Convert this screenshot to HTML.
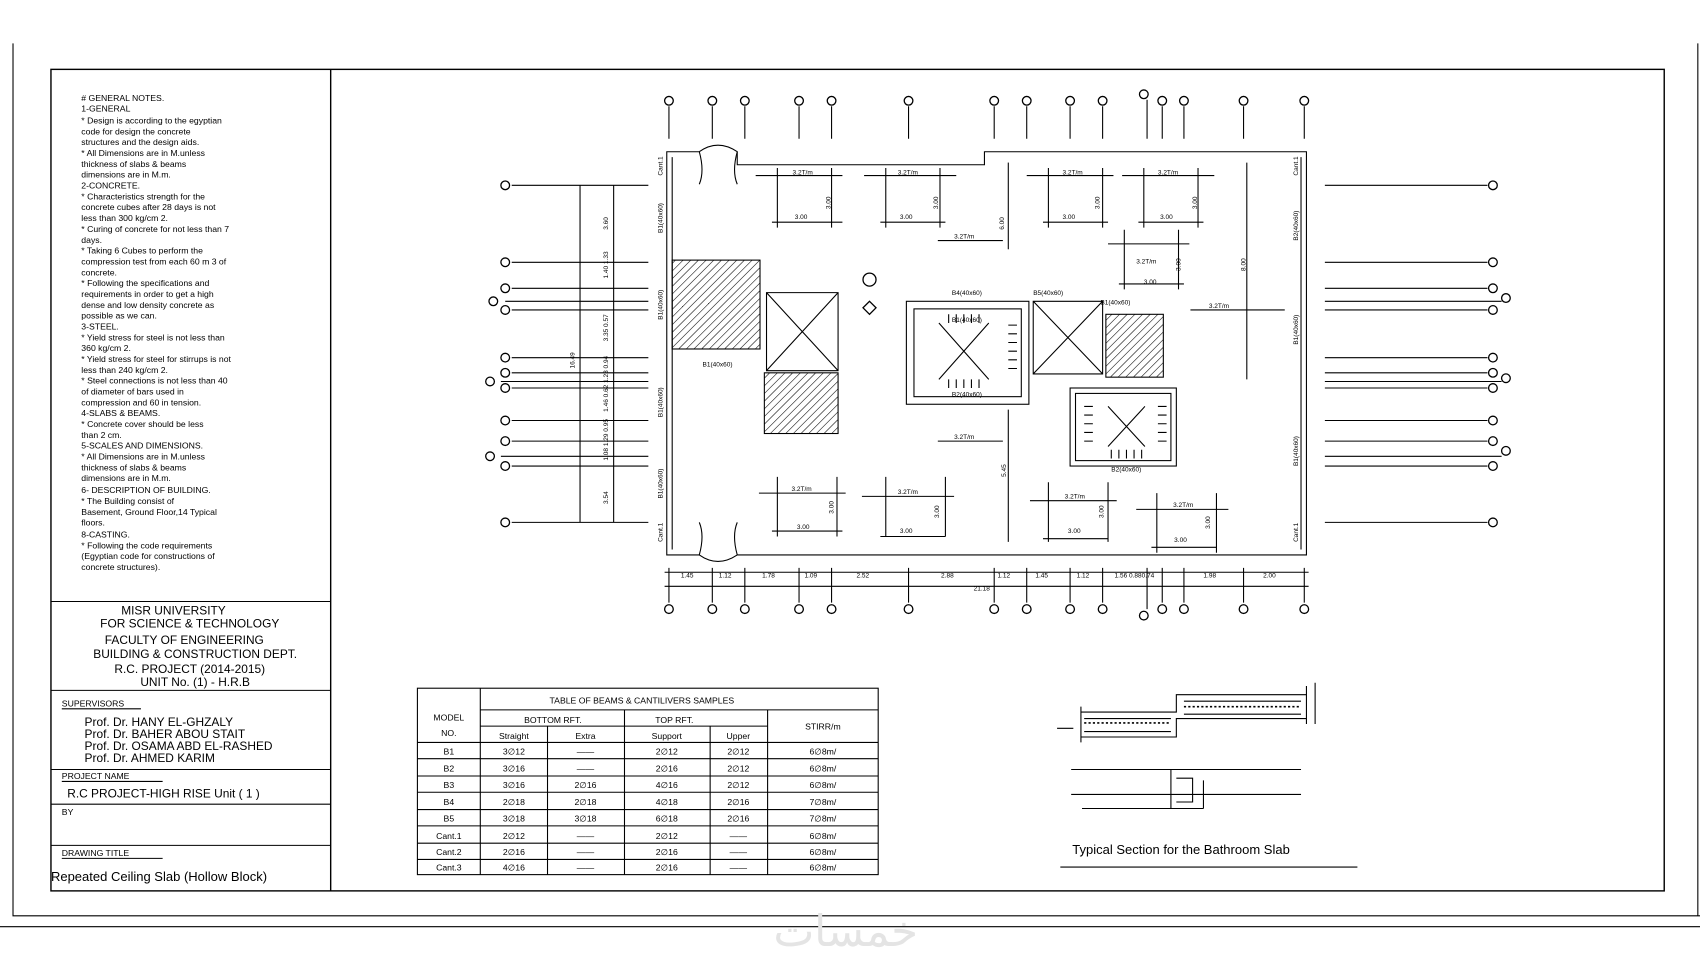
<!DOCTYPE html>
<html><head><meta charset="utf-8"><style>
html,body{margin:0;padding:0;background:#fff;}
svg{display:block;width:1700px;height:970px;}
text{font-family:"Liberation Sans",sans-serif;fill:#000;}
.n{font-size:8px;}
.t{font-size:11px;}
.s{font-size:6px;}
</style></head><body>
<svg viewBox="0 0 1568 895" preserveAspectRatio="none" xmlns="http://www.w3.org/2000/svg">
<defs>
<pattern id="h" width="5" height="5" patternUnits="userSpaceOnUse" patternTransform="rotate(45)"><line x1="0" y1="0" x2="0" y2="5" stroke="#000" stroke-width="1"/></pattern>
</defs>
<g fill="none" stroke="#000" stroke-width="1">
<polyline points="12,40 12,845 1568,845"/>
<line x1="1566" y1="40" x2="1566" y2="845"/>
<line x1="0" y1="855" x2="1568" y2="855"/>
<rect x="47" y="64" width="1488" height="758" stroke-width="1.3"/>
<line x1="305" y1="64" x2="305" y2="822" stroke-width="1.3"/>
<line x1="47" y1="555" x2="305" y2="555"/>
<line x1="47" y1="637" x2="305" y2="637"/>
<line x1="47" y1="710" x2="305" y2="710"/>
<line x1="47" y1="742" x2="305" y2="742"/>
<line x1="47" y1="780" x2="305" y2="780"/>
<rect x="385" y="635" width="425" height="172"/>
<line x1="443" y1="635" x2="443" y2="807"/>
<line x1="443" y1="655" x2="810" y2="655"/>
<line x1="443" y1="670" x2="708" y2="670"/>
<line x1="385" y1="685" x2="810" y2="685"/>
<line x1="505" y1="670" x2="505" y2="807"/>
<line x1="576" y1="655" x2="576" y2="807"/>
<line x1="655" y1="670" x2="655" y2="807"/>
<line x1="708" y1="655" x2="708" y2="807"/>
<line x1="385" y1="700" x2="810" y2="700"/><line x1="385" y1="716" x2="810" y2="716"/><line x1="385" y1="731" x2="810" y2="731"/><line x1="385" y1="747" x2="810" y2="747"/><line x1="385" y1="762" x2="810" y2="762"/><line x1="385" y1="778" x2="810" y2="778"/><line x1="385" y1="793" x2="810" y2="793"/>
<path d="M615,140 L645,140 Q662,128 680,140 L680,152 L908,152 L908,140 L1205,140 L1205,512 L680,512 Q662,524 645,512 L615,512 Z"/>
<path d="M645,140 Q650,158 645,170 M680,140 Q675,158 680,170"/>
<path d="M645,512 Q650,494 645,482 M680,512 Q675,494 680,482"/>
<line x1="620" y1="145" x2="620" y2="507"/>
<line x1="1200" y1="145" x2="1200" y2="507"/>
<rect x="620" y="240" width="81" height="82" fill="url(#h)"/>
<rect x="705" y="344" width="68" height="56" fill="url(#h)"/>
<rect x="1020" y="290" width="53" height="58" fill="url(#h)"/>
<path d="M707,270 L773,270 L773,342 L707,342 Z M707,270 L773,342 M773,270 L707,342"/>
<path d="M953,278 L1017,278 L1017,345 L953,345 Z M953,278 L1017,345 M1017,278 L953,345"/>
<rect x="836" y="278" width="113" height="95"/>
<rect x="843" y="285" width="99" height="81"/>
<path d="M866,298 L912,350 M912,298 L866,350"/>
<path d="M875,290v8 M882,290v8 M889,290v8 M896,290v8 M903,290v8 M875,350v8 M882,350v8 M889,350v8 M896,350v8 M903,350v8 M930,300h8 M930,308h8 M930,316h8 M930,324h8 M930,332h8 M930,340h8"/>
<rect x="987" y="358" width="98" height="72"/>
<rect x="992" y="363" width="88" height="62"/>
<path d="M1022,375 L1056,412 M1056,375 L1022,412"/>
<path d="M1000,375h8 M1000,383h8 M1000,391h8 M1000,399h8 M1000,407h8 M1068,375h8 M1068,383h8 M1068,391h8 M1068,399h8 M1068,407h8 M1025,415v8 M1032,415v8 M1039,415v8 M1046,415v8 M1053,415v8"/>
<line x1="930" y1="150" x2="930" y2="230"/>
<line x1="930" y1="378" x2="930" y2="500"/>
<line x1="1150" y1="150" x2="1150" y2="350"/>
<line x1="1098" y1="286" x2="1185" y2="286"/>
<line x1="865" y1="222" x2="925" y2="222"/>
<line x1="865" y1="407" x2="925" y2="407"/>
<path d="M697,162h80 M717,155v55 M767,155v55 M712,205h65"/>
<path d="M797,162h85 M817,155v55 M867,155v55 M812,205h60"/>
<path d="M947,162h80 M967,155v55 M1017,155v55 M962,205h60"/>
<path d="M1035,162h85 M1055,155v55 M1105,155v55 M1050,205h60"/>
<path d="M1022,225h75 M1037,212v55 M1087,212v55 M1032,262h60"/>
<path d="M700,455h80 M717,440v55 M772,440v55 M712,490h65"/>
<path d="M795,458h85 M817,440v55 M872,440v55 M812,495h60"/>
<path d="M950,462h80 M967,445v55 M1022,445v55 M962,497h60"/>
<path d="M1048,470h85 M1067,455v55 M1122,455v55 M1062,505h60"/>
<line x1="535" y1="171" x2="535" y2="482"/>
<line x1="566" y1="171" x2="566" y2="482"/>
<path d="M472,171H598 M472,242H598 M472,266H598 M466,278H598 M472,286H598 M472,330H598 M472,344H598 M462,352H598 M472,358H598 M472,388H598 M472,407H598 M462,421H598 M472,430H598 M472,482H598"/>
<path d="M1222,171H1372 M1222,242H1372 M1222,266H1372 M1222,278H1385 M1222,286H1372 M1222,330H1372 M1222,344H1372 M1222,352H1385 M1222,358H1372 M1222,388H1372 M1222,407H1372 M1222,421H1385 M1222,430H1372 M1222,482H1372"/>
<path d="M617,98V128 M657,98V128 M687,98V128 M737,98V128 M767,98V128 M838,98V128 M917,98V128 M947,98V128 M987,98V128 M1017,98V128 M1058,92V128 M1072,98V128 M1092,98V128 M1147,98V128 M1203,98V128"/>
<path d="M617,524V556 M657,524V556 M687,524V556 M737,524V556 M767,524V556 M838,524V556 M917,524V556 M947,524V556 M987,524V556 M1017,524V556 M1058,524V562 M1072,524V556 M1092,524V556 M1147,524V556 M1203,524V556"/>
<line x1="613" y1="528" x2="1207" y2="528"/>
<line x1="613" y1="541" x2="1207" y2="541"/>
<g stroke-width="1.2">
<circle cx="617" cy="93" r="4"/><circle cx="657" cy="93" r="4"/><circle cx="687" cy="93" r="4"/><circle cx="737" cy="93" r="4"/><circle cx="767" cy="93" r="4"/><circle cx="838" cy="93" r="4"/><circle cx="917" cy="93" r="4"/><circle cx="947" cy="93" r="4"/><circle cx="987" cy="93" r="4"/><circle cx="1017" cy="93" r="4"/><circle cx="1055" cy="87" r="4"/><circle cx="1072" cy="93" r="4"/><circle cx="1092" cy="93" r="4"/><circle cx="1147" cy="93" r="4"/><circle cx="1203" cy="93" r="4"/>
<circle cx="617" cy="562" r="4"/><circle cx="657" cy="562" r="4"/><circle cx="687" cy="562" r="4"/><circle cx="737" cy="562" r="4"/><circle cx="767" cy="562" r="4"/><circle cx="838" cy="562" r="4"/><circle cx="917" cy="562" r="4"/><circle cx="947" cy="562" r="4"/><circle cx="987" cy="562" r="4"/><circle cx="1017" cy="562" r="4"/><circle cx="1055" cy="568" r="4"/><circle cx="1072" cy="562" r="4"/><circle cx="1092" cy="562" r="4"/><circle cx="1147" cy="562" r="4"/><circle cx="1203" cy="562" r="4"/>
<circle cx="466" cy="171" r="4"/><circle cx="466" cy="242" r="4"/><circle cx="466" cy="266" r="4"/><circle cx="455" cy="278" r="4"/><circle cx="466" cy="286" r="4"/><circle cx="466" cy="330" r="4"/><circle cx="466" cy="344" r="4"/><circle cx="452" cy="352" r="4"/><circle cx="466" cy="358" r="4"/><circle cx="466" cy="388" r="4"/><circle cx="466" cy="407" r="4"/><circle cx="452" cy="421" r="4"/><circle cx="466" cy="430" r="4"/><circle cx="466" cy="482" r="4"/>
<circle cx="1377" cy="171" r="4"/><circle cx="1377" cy="242" r="4"/><circle cx="1377" cy="266" r="4"/><circle cx="1389" cy="275" r="4"/><circle cx="1377" cy="286" r="4"/><circle cx="1377" cy="330" r="4"/><circle cx="1377" cy="344" r="4"/><circle cx="1389" cy="349" r="4"/><circle cx="1377" cy="358" r="4"/><circle cx="1377" cy="388" r="4"/><circle cx="1377" cy="407" r="4"/><circle cx="1389" cy="416" r="4"/><circle cx="1377" cy="430" r="4"/><circle cx="1377" cy="482" r="4"/>
<circle cx="802" cy="258" r="6"/><path d="M802,278l6,6l-6,6l-6,-6z"/>
</g>
<path d="M997,657H1085V641H1205 M997,680H1085V663H1205 M1000,663H1080 M1000,675H1080 M1092,647H1200 M1092,659H1200"/>
<path d="M997,652V685 M1205,633V668 M1213,630V668"/>
<path d="M988,710H1200 M988,733H1200 M998,746H1110 M1080,710V746 M1110,720V746 M1085,718H1100V740H1085"/>
<line x1="978" y1="800" x2="1252" y2="800"/>
<line x1="975" y1="672" x2="990" y2="672"/>
</g>
<g stroke="#000" stroke-dasharray="2,2" stroke-width="1.5"><line x1="1000" y1="667" x2="1080" y2="667"/><line x1="1092" y1="652" x2="1200" y2="652"/></g>
<g class="s">
<text x="628" y="533">1.45</text><text x="663" y="533">1.12</text><text x="703" y="533">1.78</text><text x="742" y="533">1.09</text><text x="790" y="533">2.52</text><text x="868" y="533">2.88</text><text x="920" y="533">1.12</text><text x="955" y="533">1.45</text><text x="993" y="533">1.12</text><text x="1028" y="533">1.56 0.880.74</text><text x="1110" y="533">1.98</text><text x="1165" y="533">2.00</text>
<text x="898" y="545">21.18</text>
<text x="733" y="202">3.00</text><text x="830" y="202">3.00</text><text x="980" y="202">3.00</text><text x="1070" y="202">3.00</text><text x="1055" y="262">3.00</text>
<text x="735" y="488">3.00</text><text x="830" y="492">3.00</text><text x="985" y="492">3.00</text><text x="1083" y="500">3.00</text>
<text x="731" y="161">3.2T/m</text><text x="828" y="161">3.2T/m</text><text x="980" y="161">3.2T/m</text><text x="1068" y="161">3.2T/m</text><text x="1048" y="243">3.2T/m</text>
<text x="730" y="453">3.2T/m</text><text x="828" y="456">3.2T/m</text><text x="982" y="460">3.2T/m</text><text x="1082" y="468">3.2T/m</text>
<text x="880" y="220">3.2T/m</text><text x="880" y="405">3.2T/m</text><text x="1115" y="284">3.2T/m</text>
<text x="878" y="272">B4(40x60)</text><text x="953" y="272">B5(40x60)</text><text x="1015" y="281">B1(40x60)</text><text x="878" y="297">B1(40x60)</text><text x="878" y="366">B2(40x60)</text><text x="1025" y="435">B2(40x60)</text><text x="648" y="338">B1(40x60)</text>
</g>
<g class="s">
<text transform="translate(561,212) rotate(-90)">3.60</text><text transform="translate(561,257) rotate(-90)">1.40 1.33</text><text transform="translate(561,315) rotate(-90)">3.35 0.57</text><text transform="translate(561,380) rotate(-90)">1.46 0.62 1.23 0.94</text><text transform="translate(561,425) rotate(-90)">1.08 1.29 0.95</text><text transform="translate(561,465) rotate(-90)">3.54</text><text transform="translate(530,340) rotate(-90)">16.49</text>
<text transform="translate(766,193) rotate(-90)">3.00</text><text transform="translate(865,193) rotate(-90)">3.00</text><text transform="translate(1014,193) rotate(-90)">3.00</text><text transform="translate(1104,193) rotate(-90)">3.00</text><text transform="translate(1089,250) rotate(-90)">3.00</text><text transform="translate(926,212) rotate(-90)">6.00</text><text transform="translate(1149,250) rotate(-90)">8.00</text><text transform="translate(928,440) rotate(-90)">5.45</text>
<text transform="translate(769,474) rotate(-90)">3.00</text><text transform="translate(866,478) rotate(-90)">3.00</text><text transform="translate(1018,478) rotate(-90)">3.00</text><text transform="translate(1116,488) rotate(-90)">3.00</text>
<text transform="translate(611,162) rotate(-90)">Cant.1</text><text transform="translate(611,215) rotate(-90)">B1(40x60)</text><text transform="translate(611,295) rotate(-90)">B1(40x60)</text><text transform="translate(611,385) rotate(-90)">B1(40x60)</text><text transform="translate(611,460) rotate(-90)">B1(40x60)</text><text transform="translate(611,500) rotate(-90)">Cant.1</text>
<text transform="translate(1197,162) rotate(-90)">Cant.1</text><text transform="translate(1197,222) rotate(-90)">B2(40x60)</text><text transform="translate(1197,318) rotate(-90)">B1(40x60)</text><text transform="translate(1197,430) rotate(-90)">B1(40x60)</text><text transform="translate(1197,500) rotate(-90)">Cant.1</text>
</g>
<g class="n">
<text x="75" y="93"># GENERAL NOTES.</text><text x="75" y="103">1-GENERAL</text>
<text x="75" y="114">* Design is according to the egyptian</text><text x="75" y="124">code for design the concrete</text><text x="75" y="134">structures and the design aids.</text><text x="75" y="144">* All Dimensions are in M.unless</text><text x="75" y="154">thickness of slabs &amp; beams</text><text x="75" y="164">dimensions are in M.m.</text>
<text x="75" y="174">2-CONCRETE.</text><text x="75" y="184">* Characteristics strength for the</text><text x="75" y="194">concrete cubes after 28 days is not</text><text x="75" y="204">less than 300 kg/cm 2.</text><text x="75" y="214">* Curing of concrete for not less than 7</text><text x="75" y="224">days.</text><text x="75" y="234">* Taking 6 Cubes to perform the</text><text x="75" y="244">compression test from each 60 m 3 of</text><text x="75" y="254">concrete.</text><text x="75" y="264">* Following the specifications and</text><text x="75" y="274">requirements in order to get a high</text><text x="75" y="284">dense and low density concrete as</text><text x="75" y="294">possible as we can.</text>
<text x="75" y="304">3-STEEL.</text><text x="75" y="314">* Yield stress for steel is not less than</text><text x="75" y="324">360 kg/cm 2.</text><text x="75" y="334">* Yield stress for steel for stirrups is not</text><text x="75" y="344">less than 240 kg/cm 2.</text><text x="75" y="354">* Steel connections is not less than 40</text><text x="75" y="364">of diameter of bars used in</text><text x="75" y="374">compression and 60 in tension.</text>
<text x="75" y="384">4-SLABS &amp; BEAMS.</text><text x="75" y="394">* Concrete cover should be less</text><text x="75" y="404">than 2 cm.</text>
<text x="75" y="414">5-SCALES AND DIMENSIONS.</text><text x="75" y="424">* All Dimensions are in M.unless</text><text x="75" y="434">thickness of slabs &amp; beams</text><text x="75" y="444">dimensions are in M.m.</text>
<text x="75" y="455">6- DESCRIPTION OF BUILDING.</text><text x="75" y="465">* The Building consist of</text><text x="75" y="475">Basement, Ground Floor,14 Typical</text><text x="75" y="485">floors.</text>
<text x="75" y="496">8-CASTING.</text><text x="75" y="506">* Following the code requirements</text><text x="75" y="516">(Egyptian code for constructions of</text><text x="75" y="526">concrete structures).</text>
</g>
<g class="t" text-anchor="middle">
<text x="160" y="567">MISR UNIVERSITY</text><text x="175" y="579">FOR SCIENCE &amp; TECHNOLOGY</text><text x="170" y="594">FACULTY OF ENGINEERING</text><text x="180" y="607">BUILDING &amp; CONSTRUCTION DEPT.</text><text x="175" y="621">R.C. PROJECT (2014-2015)</text><text x="180" y="633">UNIT No. (1) - H.R.B</text>
</g>
<g class="t">
<text class="n" x="57" y="652">SUPERVISORS</text>
<text x="78" y="670">Prof. Dr. HANY EL-GHZALY</text><text x="78" y="681">Prof. Dr. BAHER ABOU STAIT</text><text x="78" y="692">Prof. Dr. OSAMA ABD EL-RASHED</text><text x="78" y="703">Prof. Dr. AHMED KARIM</text>
<text class="n" x="57" y="719">PROJECT NAME</text><text x="62" y="736">R.C PROJECT-HIGH RISE Unit ( 1 )</text>
<text class="n" x="57" y="752">BY</text><text class="n" x="57" y="790">DRAWING TITLE</text>
<text x="47" y="813" font-size="12">Repeated Ceiling Slab (Hollow Block)</text>
<text x="989" y="788" font-size="12">Typical Section for the Bathroom Slab</text>
</g>
<g stroke="#000"><line x1="57" y1="654" x2="130" y2="654"/><line x1="57" y1="721" x2="150" y2="721"/><line x1="57" y1="792" x2="150" y2="792"/></g>
<g class="n" text-anchor="middle">
<text x="592" y="649">TABLE OF BEAMS &amp; CANTILIVERS SAMPLES</text>
<text x="414" y="665">MODEL</text><text x="414" y="679">NO.</text>
<text x="510" y="667">BOTTOM   RFT.</text><text x="622" y="667">TOP RFT.</text><text x="759" y="673">STIRR/m</text>
<text x="474" y="682">Straight</text><text x="540" y="682">Extra</text><text x="615" y="682">Support</text><text x="681" y="682">Upper</text>
<text x="414" y="696">B1</text><text x="474" y="696">3∅12</text><text x="540" y="696">——</text><text x="615" y="696">2∅12</text><text x="681" y="696">2∅12</text><text x="759" y="696">6∅8m/</text>
<text x="414" y="712">B2</text><text x="474" y="712">3∅16</text><text x="540" y="712">——</text><text x="615" y="712">2∅16</text><text x="681" y="712">2∅12</text><text x="759" y="712">6∅8m/</text>
<text x="414" y="727">B3</text><text x="474" y="727">3∅16</text><text x="540" y="727">2∅16</text><text x="615" y="727">4∅16</text><text x="681" y="727">2∅12</text><text x="759" y="727">6∅8m/</text>
<text x="414" y="743">B4</text><text x="474" y="743">2∅18</text><text x="540" y="743">2∅18</text><text x="615" y="743">4∅18</text><text x="681" y="743">2∅16</text><text x="759" y="743">7∅8m/</text>
<text x="414" y="758">B5</text><text x="474" y="758">3∅18</text><text x="540" y="758">3∅18</text><text x="615" y="758">6∅18</text><text x="681" y="758">2∅16</text><text x="759" y="758">7∅8m/</text>
<text x="414" y="774">Cant.1</text><text x="474" y="774">2∅12</text><text x="540" y="774">——</text><text x="615" y="774">2∅12</text><text x="681" y="774">——</text><text x="759" y="774">6∅8m/</text>
<text x="414" y="789">Cant.2</text><text x="474" y="789">2∅16</text><text x="540" y="789">——</text><text x="615" y="789">2∅16</text><text x="681" y="789">——</text><text x="759" y="789">6∅8m/</text>
<text x="414" y="803">Cant.3</text><text x="474" y="803">4∅16</text><text x="540" y="803">——</text><text x="615" y="803">2∅16</text><text x="681" y="803">——</text><text x="759" y="803">6∅8m/</text>
</g>
<text x="780" y="873" font-size="40" style="fill:#e4e4e4" text-anchor="middle">خمسات</text>
</svg>
</body></html>
